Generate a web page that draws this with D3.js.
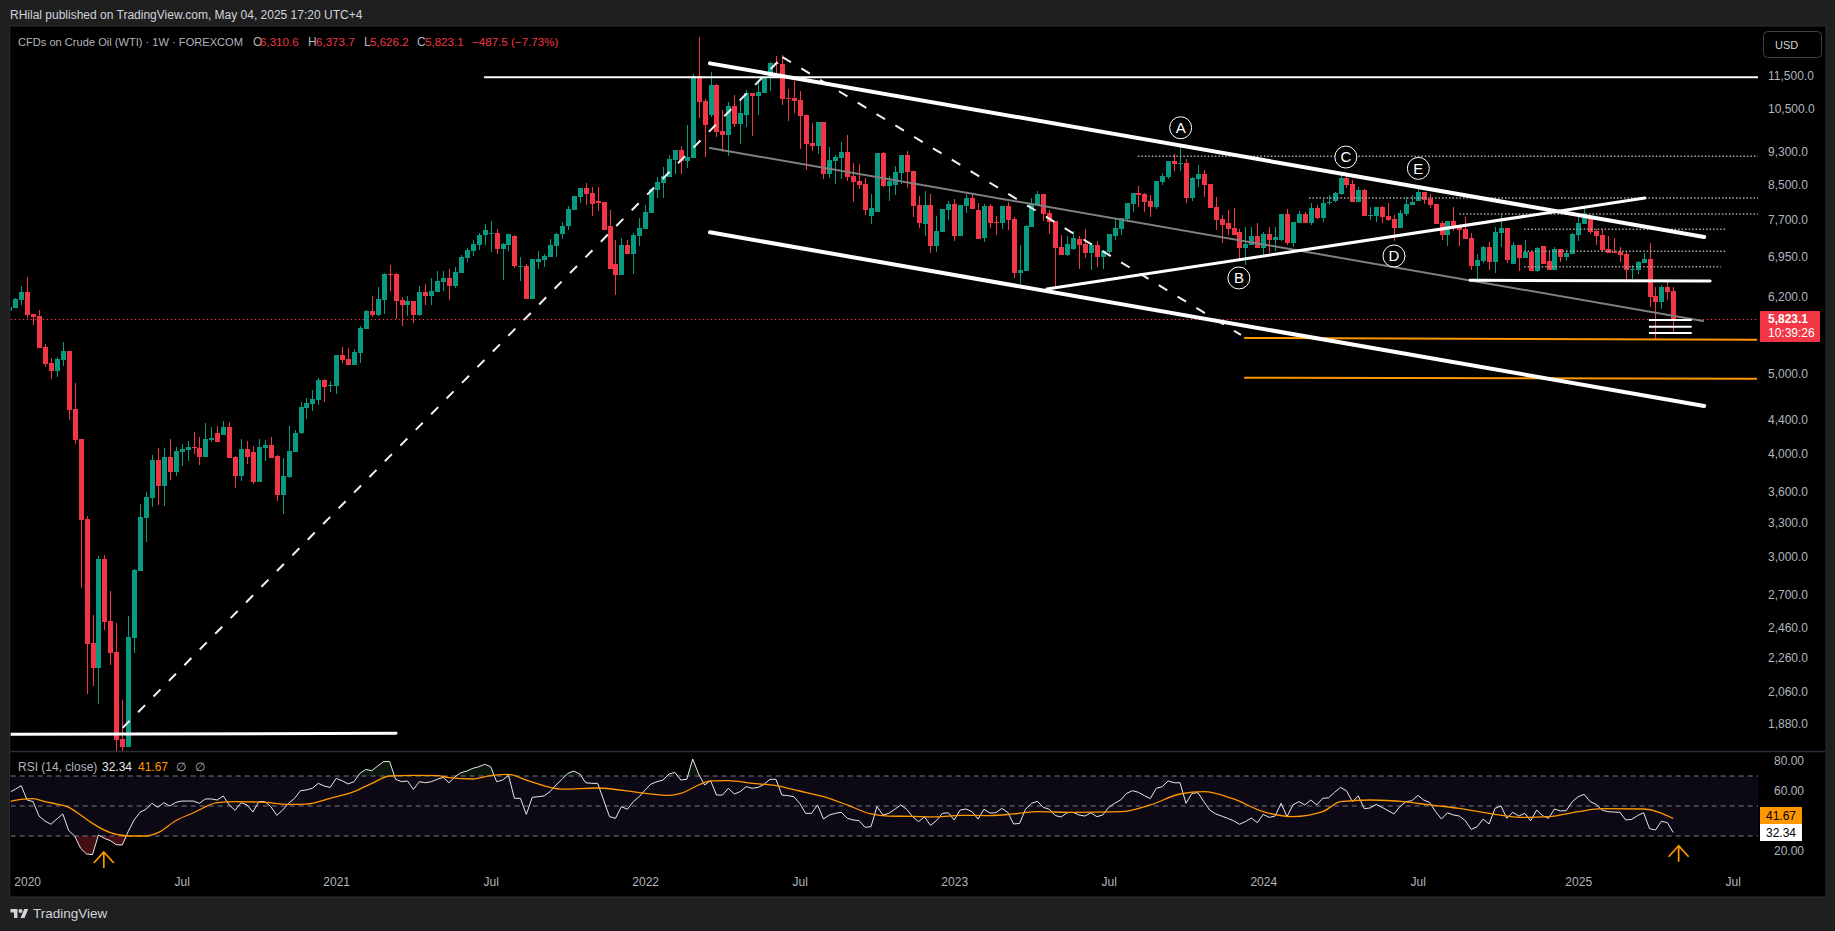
<!DOCTYPE html>
<html>
<head>
<meta charset="utf-8">
<script src="https://cdn.jsdelivr.net/npm/d3@7"></script>
<style>
html,body{margin:0;padding:0;background:#1f1f1f;overflow:hidden}
svg{display:block}
text{font-family:"Liberation Sans",Arial,sans-serif;font-size:12px}
.axis path,.axis line{display:none}
.axis text{fill:#b2b5be;font-size:12px;font-family:"Liberation Sans",Arial,sans-serif}
</style>
</head>
<body>
<svg id="c" width="1835" height="931"></svg>
<script>
// ---------- weekly OHLC, one value per bar ----------
const opens=[
5964,6014,6149,6288,5914,5881,5393,5157,5043,5200,
5332,4535,4170,3334,2358,2198,2981,2507,2299,1802,
1763,2391,2883,3344,3536,3932,3656,3965,3802,4021,
4043,4077,4066,3965,4158,4241,4217,4312,3965,3760,
4054,4021,3698,4066,4100,3977,3565,3749,4021,4241,
4547,4598,4650,4917,4836,4836,5273,5214,5129,5303,
5671,5964,5898,6149,6613,6613,6149,6065,6132,5898,
6288,6219,6288,6467,6540,6395,6632,6916,7053,7172,
7375,7396,7416,7092,7172,7354,6744,6763,6166,6839,
6877,6936,7152,7396,7563,7908,8201,8410,8293,8110,
8088,7563,6801,6595,7172,6994,7354,7499,7843,8363,
8528,8673,9094,9352,9068,9145,11503,10725,10313,11216,
9863,9754,10577,10057,10313,10968,10877,10968,11438,11928,
11895,10815,10815,10755,10313,9537,9458,10113,8744,9068,
9145,9300,8697,8576,8505,7777,7865,9274,8457,8481,
8771,9223,8820,8020,7605,8020,7152,7437,7908,8043,
7354,7998,8178,7908,7313,7998,7648,7627,7998,7712,
6632,6669,7541,8020,8270,7843,7669,7132,6975,7092,
7293,7192,7014,7172,6936,7033,7354,7499,7712,8043,
8293,8270,8110,7976,8552,8673,9068,8993,9018,8178,
8624,8744,8505,7976,7712,7627,7520,7437,7112,7172,
7354,7112,7396,7272,7272,7821,7212,7627,7821,7627,
7953,7734,8065,8110,8270,8648,8505,8088,8363,7777,
7777,7976,7777,7712,7520,7821,8020,8110,8316,8155,
8043,7627,7375,7669,7563,7499,7313,6763,6858,7132,
6839,7416,7520,6801,7172,6916,7033,6669,7152,6858,
6687,7092,6936,6994,7375,7605,7734,7457,7375,7092,
7033,7033,6994,6687,6687,6820,6897,6219,6115,6377,6310.6];
const closes=[
6031,6166,6288,5898,5865,5378,5143,5043,5214,5332,
4522,4158,3325,2351,2198,2981,2500,2293,1797,1763,
2397,2891,3353,3546,3932,3656,3965,3802,4032,4054,
4077,4066,3965,4170,4181,4135,4312,3954,3760,4054,
3965,3698,4077,4100,3954,3565,3760,4032,4241,4560,
4611,4663,4917,4822,4850,5273,5200,5129,5317,5687,
5964,5898,6166,6613,6595,6132,6065,6132,5898,6288,
6219,6306,6485,6540,6395,6650,6936,7072,7192,7375,
7478,7416,7092,7192,7396,6763,6763,6166,6897,6897,
6955,7172,7396,7563,7931,8224,8410,8270,8043,8065,
7478,6706,6595,7172,6994,7375,7520,7865,8386,8552,
8697,9120,9352,9068,9171,11503,10695,10029,11216,9835,
9754,10577,10057,10372,10968,10877,10999,11470,11928,11895,
10785,10785,10725,10284,9511,9458,10113,8744,9094,9171,
9300,8673,8552,8481,7908,7953,9274,8457,8576,8795,
9223,8795,7998,7627,8020,7152,7457,7931,8043,7354,
8020,8178,7931,7293,7998,7627,7627,7998,7690,6632,
6687,7563,8043,8270,7821,7648,7112,6975,7192,7313,
7172,7014,7172,6936,7053,7396,7520,7734,8065,8293,
8247,8088,7976,8576,8697,9068,8993,9018,8178,8648,
8744,8481,7953,7690,7584,7499,7375,7112,7192,7354,
7112,7396,7272,7334,7821,7212,7648,7821,7627,7953,
7734,8065,8088,8293,8648,8481,8088,8363,7777,7799,
7976,7755,7690,7520,7843,8043,8088,8316,8132,8020,
7605,7375,7669,7541,7478,7293,6763,6877,7132,6839,
7437,7520,6877,7172,6916,7033,6669,7112,6801,6687,
7092,6936,7014,7396,7627,7734,7437,7354,7072,7014,
7014,6975,6687,6706,6839,6897,6201,6115,6377,6288,5823.1];
const highs=[
6065,6184,6395,6558,5914,5980,5438,5229,5244,5469,
5332,4877,4170,3362,2549,3006,3015,2726,2493,2010,
2542,2899,3477,3595,3988,4066,4066,4170,4077,4112,
4146,4252,4193,4361,4312,4324,4385,4373,3977,4170,
4146,4089,4170,4158,4193,3988,3954,4324,4276,4624,
4676,4782,4945,4931,4903,5273,5393,5378,5362,5719,
5980,6219,6377,6632,6782,6632,6201,6219,6132,6395,
6431,6540,6669,6669,6706,6744,6975,7112,7272,7416,
7605,7669,7499,7212,7396,7375,6936,6801,6897,7053,
6994,7293,7416,7648,7998,8224,8410,8528,8433,8433,
8088,7908,7272,7313,7272,7416,7734,8020,8386,8673,
8919,9223,9352,9458,10029,11568,12824,10785,11631,11248,
10458,10695,10907,10755,11060,10968,11373,11470,11961,12163,
12197,11090,11340,11029,10313,10085,10113,10113,9431,9223,
9563,9754,9018,8993,8648,8270,9274,9300,8697,8943,
9223,9326,8820,8224,8340,8270,7777,7931,8110,8155,
8020,8270,8270,8065,8043,8043,7777,7998,8088,7755,
7172,7584,8178,8340,8270,7908,7669,7375,7354,7457,
7354,7499,7212,7252,7072,7396,7712,7734,8065,8293,
8457,8293,8247,8576,8771,9068,9249,9458,9120,8673,
8968,8844,8505,8201,7799,7908,7953,7499,7541,7541,
7627,7437,7541,7541,7821,7931,7648,7886,7865,8065,
8020,8155,8247,8316,8721,8721,8600,8433,8386,7976,
7976,7998,8065,7799,7908,8201,8247,8433,8316,8270,
8043,7669,7669,7976,7584,7755,7416,6994,7152,7232,
7541,7821,7520,7232,7172,7272,7033,7132,7152,7053,
7132,7092,7072,7416,7755,7998,7777,7499,7499,7354,
7313,7132,7053,6782,6858,7014,7212,6377,6413,6485,6373.7];
const lows=[
5947,6014,6065,5848,5735,5378,5100,4931,4959,5114,
4397,4112,2749,2044,2090,1988,2445,2217,1703,1703,
1763,2293,2883,3126,3448,3467,3457,3718,3760,3867,
3921,3999,3878,3965,4135,4135,4217,3954,3636,3708,
3889,3677,3698,3921,3954,3506,3381,3739,4021,4229,
4409,4509,4586,4624,4756,4729,5157,5129,5129,5157,
5671,5865,5881,5914,6306,5832,5719,5881,5767,5881,
6065,6065,6288,6306,6149,6359,6632,6839,6955,7072,
7172,7033,6994,6503,7053,6725,6485,6166,6166,6706,
6744,6936,6936,7293,7478,7908,8065,8020,7777,7886,
7478,6706,6236,6595,6994,6613,7152,7499,7843,8178,
8178,8673,8744,8744,8893,9145,10226,9171,10255,9698,
9300,9197,9973,9511,9973,9726,10313,10968,11029,11599,
10606,10142,10372,9378,8844,9326,9249,8624,8648,8505,
8624,8576,8088,8386,7799,7605,7865,8433,8110,8247,
8505,8410,7755,7520,7354,7014,7033,7437,7690,7252,
7354,7843,7931,7293,7232,7520,7375,7499,7478,6540,
6431,6669,7541,8020,7669,7396,6359,6975,6955,7072,
6706,6916,6687,6744,6706,6955,7272,7375,7648,7865,
7976,7865,7755,7931,8481,8624,8820,8820,8065,8110,
8433,8201,7953,7478,7212,7375,7375,6897,6782,7172,
7112,6936,7014,7053,7252,7172,7132,7627,7627,7584,
7712,7648,8020,8088,8247,8410,8088,8088,7777,7690,
7648,7627,7669,7252,7520,7777,8020,8110,8043,7953,
7605,7272,7152,7457,7152,7293,6687,6503,6820,6687,
6632,7132,6820,6801,6669,6916,6669,6650,6801,6687,
6687,6839,6858,6994,7252,7605,7396,7172,7033,7014,
7014,6839,6521,6521,6613,6820,6031,5499,5997,6149,5626.2];
// ---------- RSI (14) and its moving average ----------
const rsi=[
59.1,61.1,63.6,54,52.9,43.3,40,37.8,41.3,44.7,
33.6,30,21.8,18,17.6,30.7,28.4,26.9,24.2,24,
32.9,40.7,45.8,47.8,51.8,49.1,52.2,50,52.4,53.3,
53.3,53.3,51.8,54.7,54.7,54,56.7,50.7,47.1,52.2,
50.7,46,52.9,52.9,49.6,43.8,47.3,51.8,55.1,60.2,
60.7,61.8,65.1,63.3,62.4,68.4,66.9,64.7,66.2,71.8,
74.4,73.5,76.7,79.6,79.6,67.8,66.2,66.7,61.1,66.2,
65.5,66.2,67.8,69.1,65.5,69.5,72.2,73.3,75.1,76.2,
77.8,76.2,66.2,67.3,70.4,55.1,55.1,44.4,55.8,56.2,
56.7,59.6,64,67.8,71.8,73.3,71.3,65.5,65.1,65.1,
54,42.9,41.8,49.6,47.8,52.9,56.2,60.7,64.7,66.2,
67.3,71.3,72.4,67.3,67.8,81.3,71.3,64,66.9,57.3,
57.3,61.8,58,59.6,62.9,61.8,62.4,64.4,67.8,67.8,
57.3,56.9,56.2,51.8,45.1,45.1,50.7,41.3,44,45.1,
45.8,41.8,40.7,40.2,35.8,36.2,49.6,44,45.1,47.8,
50.7,47.8,42.9,39.6,42.9,37.1,40.2,45.1,45.5,40.7,
47.3,48,46.2,41.3,47.8,45.3,45.5,48.4,45.8,38,
38.4,47.8,51.8,53.1,49.1,47.8,43.6,42.7,45.5,45.8,
44,43.3,45.5,42.9,44,49.1,51.8,54,58.4,60.2,
59.1,56.9,54.9,61.8,62.9,66.7,65.5,65.5,51.8,58.4,
58.9,52.9,47.3,44.7,43.3,41.8,40.2,37.8,39.6,42,
38.9,44.4,42.4,43.3,51.8,42.9,50.7,52.9,50.7,54,
50.7,55.1,55.5,59.1,62.4,60.2,52.9,56.7,48.2,48.7,
51.1,49.1,46.9,44.7,49.6,52.9,53.5,57.1,54,52.4,
46.2,41.3,45.5,44,43.3,40.2,34.4,36.2,41.3,38,
48.4,50,41.8,45.8,43.3,45.1,40.2,47.3,43.6,41.8,
48,46.7,46.9,52.9,56.2,57.8,52.9,51.1,47.3,46.2,
46,45.8,40.7,41.1,43.6,45.5,34.9,34,39.8,38.9,32.34];
const rsiMaBars=[0,2,4,6,8,10,12,14,17,20,23,25,28,31,35,38,43,47,50,54,58,61,64,68,72,74,78,81,84,87,93,99,107,111,113,116,118,121,125,129,133,137,141,145,148,152,156,160,165,169,173,179,187,192,197,201,206,211,216,221,224,229,235,239,244,249,255,259,264,268,275,280];
const rsiMaValues=[52.9,54.4,54.9,52.9,51.3,49.1,44,38.4,32.2,30,30,32.2,40.2,45.5,52.2,52.9,52.4,51.1,51.3,55.1,59.6,65.1,70,70.4,70.2,68.9,68,70.2,71.1,67.3,61.3,62,58.4,57.1,58.4,64,66.7,66.9,65.1,63.6,60,56.2,50.7,44.7,43.3,43.1,42.7,43.8,43.6,44.7,46.2,45.8,46.2,50.7,58,59.6,54.7,46.2,42.9,46.2,52.9,54,52.7,50.7,48.4,45.1,42.4,42.9,46.2,48.2,48,41.67];
// ---------- axis labels ----------
const priceTicks=[11500,10500,9300,8500,7700,6950,6200,5000,4400,4000,3600,3300,3000,2700,2460,2260,2060,1880];
const rsiTicks=[80,60,20];
const rsiBands=[70,50,30];
const timeTickBars=[3,29,55,81,107,133,159,185,211,237,264,290];
const timeTickLabels=["2020","Jul","2021","Jul","2022","Jul","2023","Jul","2024","Jul","2025","Jul"];
// ---------- drawings: [barFrom, priceFrom, barTo, priceTo] ----------
const channelLines=[[117.9,11917,285.2,7334],[117.9,7431,285.2,4573]];
const midLine=[[117.9,9405,285,5799]];
const dashedLines=[[19.07,1859,130.1,12129],[130.1,12129,207.25,5577]];
const risingLine=[[174.6,6341,275.2,8178]];
const thickLevels=[[0.1,1826,65.07,1831],[245.8,6498,286.2,6485]];
const thinLevels=[[79.9,11460,294.4,11460],[275.9,5815,283.1,5815],[275.9,5708,283.1,5708],[275.9,5607,283.1,5607]];
const orangeLevels=[[207.8,5530,294.1,5504],[207.8,4949,294.1,4935]];
const dottedLevels=[[189.9,9189,294.2,9189],[218.7,8178,294.4,8178],[244,7821,294.2,7821],[254.9,7493,289,7493],[254.9,7047,289,7047],[254.9,6750,288,6750]];
const waveLabels=["A","B","C","D","E"];
const waveBars=[197.1,206.9,224.9,233,237.1];
const wavePrices=[9954,6540,9171,6955,8885];
const arrowBars=[15.9,280.9];
const arrowRsi=[19.3,23.5];

// ---------- scales ----------
const paneL=10.7,paneR=1825,paneT=27,paneSplit=751,paneB=896,axisX=1758;
const x=d3.scaleLinear().domain([0,280]).range([9.3,1673.3]);
const y=d3.scaleLog().domain([1880,11500]).range([723.9,76.1]);
const yR=d3.scaleLinear().domain([20,80]).range([851,761]);
const UP="#089981",DOWN="#f23645",ORANGE="#ff9800",TXT="#b2b5be";

const svg=d3.select("#c");
const defs=svg.append("defs");
defs.append("clipPath").attr("id","mainClip").append("rect").attr("x",paneL).attr("y",paneT).attr("width",axisX-paneL).attr("height",paneSplit-paneT);
defs.append("clipPath").attr("id","rsiClip").append("rect").attr("x",paneL).attr("y",paneSplit).attr("width",axisX-paneL).attr("height",paneB-paneSplit);
svg.append("rect").attr("width",1835).attr("height",931).attr("fill","#1f1f1f");
svg.append("rect").attr("x",paneL-1).attr("y",paneT-1).attr("width",paneR-paneL+2).attr("height",paneB-paneT+2).attr("fill","#000").attr("stroke","#2e2e2e");
svg.append("line").attr("x1",paneL).attr("x2",paneR).attr("y1",paneSplit+.5).attr("y2",paneSplit+.5).attr("stroke","#2a2e39").attr("stroke-width",1.5);

// header
svg.append("text").attr("x",10).attr("y",19).attr("fill","#d1d4dc").style("font-size","12px").text("RHilal published on TradingView.com, May 04, 2025 17:20 UTC+4");

// last price line
svg.append("line").attr("x1",paneL).attr("x2",axisX).attr("y1",y(closes[280])).attr("y2",y(closes[280])).attr("stroke",DOWN).attr("stroke-width",1).attr("stroke-dasharray","1.5 2.5");

// candles
const main=svg.append("g").attr("clip-path","url(#mainClip)");
const bars=d3.range(opens.length);
const cg=main.append("g").attr("shape-rendering","crispEdges");
cg.selectAll("line").data(bars).join("line")
  .attr("x1",i=>Math.round(x(i))+.5).attr("x2",i=>Math.round(x(i))+.5)
  .attr("y1",i=>y(highs[i])).attr("y2",i=>y(lows[i]))
  .attr("stroke",i=>closes[i]<opens[i]?DOWN:UP).attr("stroke-width",1);
cg.selectAll("rect").data(bars).join("rect")
  .attr("x",i=>Math.round(x(i))-2).attr("width",5)
  .attr("y",i=>Math.min(y(opens[i]),y(closes[i])))
  .attr("height",i=>Math.max(1,Math.abs(y(opens[i])-y(closes[i]))))
  .attr("fill",i=>closes[i]<opens[i]?DOWN:UP);

// drawings
function seg(data,stroke,width,dash,cap){
  main.append("g").selectAll("line").data(data).join("line")
    .attr("x1",d=>x(d[0])).attr("y1",d=>y(d[1])).attr("x2",d=>x(d[2])).attr("y2",d=>y(d[3]))
    .attr("stroke",stroke).attr("stroke-width",width).attr("stroke-dasharray",dash||null).attr("stroke-linecap",cap||"round");
}
seg(dottedLevels,"#a8a8a8",1.5,"1.5 2","butt");
seg(midLine,"#7f7f7f",2);
seg(orangeLevels,ORANGE,2,null,"butt");
seg(dashedLines,"#f2f2f2",2,"10 12","butt");
seg(thinLevels,"#ffffff",2,null,"butt");
seg(channelLines,"#ffffff",4);
seg(risingLine,"#ffffff",3);
seg(thickLevels,"#ffffff",3);

// wave markers
const wg=main.append("g").selectAll("g").data(waveLabels).join("g")
  .attr("transform",(d,i)=>`translate(${x(waveBars[i])},${y(wavePrices[i])})`);
wg.append("circle").attr("r",11).attr("fill","#000").attr("stroke","#fff").attr("stroke-width",1);
wg.append("text").attr("text-anchor","middle").attr("dy","0.36em").attr("fill","#fff").style("font-size","15px").text(d=>d);

// price axis
const gy=svg.append("g").attr("class","axis").attr("transform",`translate(${1768-3},0)`)
  .call(d3.axisRight(y).tickValues(priceTicks).tickFormat(d3.format(",.1f")).tickSize(0).tickPadding(3));
// last price tag
svg.append("rect").attr("x",1760).attr("y",311).attr("width",60).attr("height",31).attr("rx",1).attr("fill",DOWN);
svg.append("text").attr("x",1768).attr("y",323).attr("fill","#fff").attr("font-weight","bold").text(d3.format(",.1f")(closes[280]));
svg.append("text").attr("x",1768).attr("y",337).attr("fill","#fff").text("10:39:26");
// USD button
svg.append("rect").attr("x",1763.5).attr("y",31.5).attr("width",58).attr("height",26).attr("rx",4).attr("fill","#000").attr("stroke","#3f3f3f");
svg.append("text").attr("x",1775).attr("y",49).attr("fill","#d1d4dc").style("font-size","11px").text("USD");

// legend
const legend=[["CFDs on Crude Oil (WTI) · 1W · FOREXCOM",18,TXT,"11.1px"],["O",253,TXT,"12px"],[d3.format(",.1f")(opens[280]),260,DOWN,"11.6px"],["H",308,TXT,"12px"],[d3.format(",.1f")(highs[280]),316,DOWN,"11.6px"],["L",364,TXT,"12px"],[d3.format(",.1f")(lows[280]),370,DOWN,"11.6px"],["C",417,TXT,"12px"],[d3.format(",.1f")(closes[280]),425,DOWN,"11.6px"],["−487.5 (−7.73%)",472,DOWN,"11.6px"]];
svg.append("g").selectAll("text").data(legend).join("text").attr("x",d=>d[1]).attr("y",46).attr("fill",d=>d[2]).style("font-size",d=>d[3]).text(d=>d[0]);

// RSI pane
const rg=svg.append("g").attr("clip-path","url(#rsiClip)");
rg.append("rect").attr("x",paneL).attr("width",axisX-paneL).attr("y",yR(70)).attr("height",yR(30)-yR(70)).attr("fill","#7e57c2").attr("opacity",0.1);
const rLine=d3.line().x((d,i)=>x(i)).y(d=>yR(d));
rg.append("path").attr("d",d3.area().x((d,i)=>x(i)).y0(yR(30)).y1(d=>yR(Math.min(d,30)))(rsi)).attr("fill","#f23645").attr("opacity",0.28);
rg.append("path").attr("d",d3.area().x((d,i)=>x(i)).y0(yR(70)).y1(d=>yR(Math.max(d,70)))(rsi)).attr("fill","#4caf50").attr("opacity",0.13);
rg.selectAll("line.band").data(rsiBands).join("line").attr("class","band").attr("x1",paneL).attr("x2",axisX).attr("y1",d=>yR(d)).attr("y2",d=>yR(d)).attr("stroke","#787b86").attr("stroke-width",1).attr("stroke-dasharray","5 4");
rg.append("path").attr("d",rLine(rsi)).attr("fill","none").attr("stroke","#e8e8e8").attr("stroke-width",1);
rg.append("path").datum(rsiMaBars.map((b,i)=>[b,rsiMaValues[i]])).attr("d",d3.line().x(d=>x(d[0])).y(d=>yR(d[1])).curve(d3.curveMonotoneX)).attr("fill","none").attr("stroke",ORANGE).attr("stroke-width",1.3);
// arrows
const ag=svg.append("g").selectAll("path").data(arrowBars).join("path")
  .attr("d",(b,i)=>{const X=x(b),Y=yR(arrowRsi[i]);return `M${X},${Y+16}L${X},${Y}M${X-10},${Y+11}L${X},${Y}L${X+10},${Y+11}`;})
  .attr("fill","none").attr("stroke",ORANGE).attr("stroke-width",1.7);
// rsi axis and legends
svg.append("g").attr("class","axis").attr("transform",`translate(${1768-3},0)`)
  .call(d3.axisRight(yR).tickValues(rsiTicks).tickFormat(d3.format(".2f")).tickSize(0).tickPadding(9));
svg.append("rect").attr("x",1760).attr("y",807).attr("width",42).attr("height",17).attr("fill",ORANGE);
svg.append("text").attr("x",1781).attr("y",820).attr("text-anchor","middle").attr("fill","#000").text(d3.format(".2f")(rsiMaValues[rsiMaValues.length-1]));
svg.append("rect").attr("x",1760).attr("y",824).attr("width",42).attr("height",17).attr("fill","#fff");
svg.append("text").attr("x",1781).attr("y",837).attr("text-anchor","middle").attr("fill","#000").text(d3.format(".2f")(rsi[280]));
const rsiLegend=[["RSI (14, close)",18,TXT],[d3.format(".2f")(rsi[280]),102,"#e8e8e8"],[d3.format(".2f")(rsiMaValues[rsiMaValues.length-1]),138,ORANGE],["∅",176,TXT],["∅",195,TXT]];
svg.append("g").selectAll("text").data(rsiLegend).join("text").attr("x",d=>d[1]).attr("y",771).attr("fill",d=>d[2]).text(d=>d[0]);

// time axis
svg.append("g").attr("class","axis").attr("transform","translate(0,873)")
  .call(d3.axisBottom(x).tickValues(timeTickBars).tickFormat((d,i)=>timeTickLabels[i]).tickSize(0).tickPadding(4));

// footer
const logo=svg.append("g").attr("transform","translate(10.5,907) scale(0.5)").attr("fill","#d1d4dc");
logo.append("path").attr("d","M14 22H7V11H0V4h14v18zM28 22h-8l7.5-18h8L28 22z");
logo.append("circle").attr("cx",20).attr("cy",8).attr("r",4);
svg.append("text").attr("x",33).attr("y",918).attr("fill","#d1d4dc").style("font-size","13.5px").text("TradingView");
</script>
</body>
</html>
